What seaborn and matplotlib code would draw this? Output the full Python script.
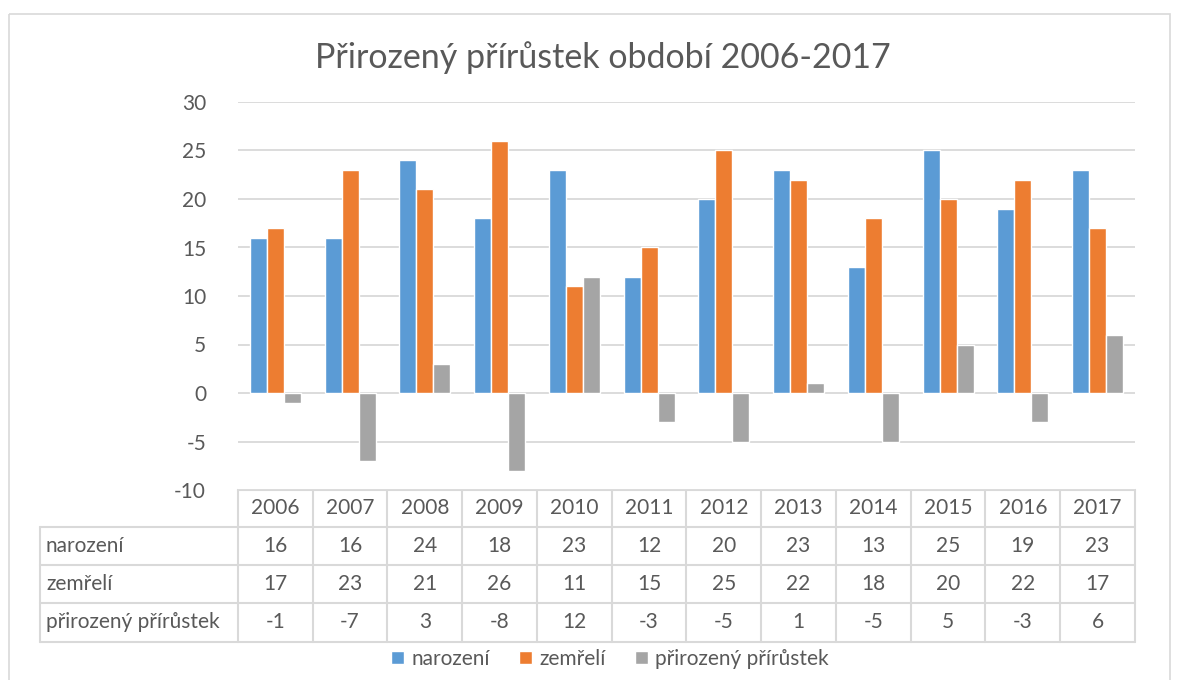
import numpy as np
import pandas as pd
import matplotlib
matplotlib.use("Agg")
import matplotlib.pyplot as plt
import seaborn as sns
from matplotlib.patches import Rectangle, Patch

# data
roky = ["2006", "2007", "2008", "2009", "2010", "2011", "2012", "2013", "2014", "2015", "2016", "2017"]
narozeni = [16, 16, 24, 18, 23, 12, 20, 23, 13, 25, 19, 23]
zemreli = [17, 23, 21, 26, 11, 15, 25, 22, 18, 20, 22, 17]
prirustek = [-1, -7, 3, -8, 12, -3, -5, 1, -5, 5, -3, 6]
rady = ["narození", "zemřelí", "přirozený přírůstek"]
barvy = ["#5B9BD5", "#ED7D31", "#A5A5A5"]

df = pd.DataFrame({
    "rok": roky * 3,
    "hodnota": narozeni + zemreli + prirustek,
    "rada": np.repeat(rady, len(roky)),
})

sns.set_theme(style="white")
plt.rcParams["font.family"] = ["Lato", "DejaVu Sans"]
plt.rcParams["axes.unicode_minus"] = False
seda = "#595959"
mrizka = "#D9D9D9"
fs = 15

W, H = 1183, 680
fig = plt.figure(figsize=(W / 100, H / 100), dpi=100)

# pixel overlay for border and table
pax = fig.add_axes([0, 0, 1, 1])
pax.set_xlim(0, W)
pax.set_ylim(H, 0)
pax.axis("off")
pax.add_patch(Rectangle((9, 14), 1161, 700, fill=False, edgecolor=mrizka, lw=1.2))

x0, x1 = 238, 1135
ax = fig.add_axes([x0 / W, 1 - 490 / H, (x1 - x0) / W, 388 / H])
sns.barplot(data=df, x="rok", y="hodnota", hue="rada", palette=barvy,
            width=0.68, saturation=1, legend=False, ax=ax, zorder=3)
ax.set_ylim(-10, 30)
ax.set_yticks(range(-10, 31, 5))
ax.yaxis.grid(True, color=mrizka, lw=1.3)
ax.set_axisbelow(True)
for s in ax.spines.values():
    s.set_visible(False)
ax.set_xlabel("")
ax.set_ylabel("")
ax.tick_params(axis="x", bottom=False, labelbottom=False)
ax.tick_params(axis="y", left=False, pad=17, labelsize=fs, labelcolor=seda)
ax.set_xlim(-0.5, len(roky) - 0.5)

# data table
tl = 40
colw = (x1 - x0) / len(roky)
radky = [490, 527, 565, 603, 642]
lc = dict(color=mrizka, lw=1.5)
pax.plot([x0, x1], [radky[0], radky[0]], **lc)
for r in radky[1:]:
    pax.plot([tl, x1], [r, r], **lc)
pax.plot([tl, tl], [radky[1], radky[-1]], **lc)
for i in range(len(roky) + 1):
    xx = x0 + i * colw
    pax.plot([xx, xx], [radky[0], radky[-1]], **lc)
for i, rok in enumerate(roky):
    pax.text(x0 + (i + 0.5) * colw, (radky[0] + radky[1]) / 2, rok,
             ha="center", va="center", fontsize=fs, color=seda)
for j, (nazev, hodnoty) in enumerate(zip(rady, [narozeni, zemreli, prirustek])):
    yc = (radky[j + 1] + radky[j + 2]) / 2
    pax.text(tl + 6, yc, nazev, ha="left", va="center", fontsize=fs, color=seda)
    for i, v in enumerate(hodnoty):
        pax.text(x0 + (i + 0.5) * colw, yc, str(v), ha="center", va="center",
                 fontsize=fs, color=seda)

fig.text(603 / W, 1 - 58 / H, "Přirozený přírůstek období 2006-2017",
         ha="center", va="center", fontsize=24.5, color=seda)

handles = [Patch(facecolor=c, label=l) for c, l in zip(barvy, rady)]
fig.legend(handles=handles, loc="center", bbox_to_anchor=(610 / W, 1 - 659 / H),
           ncol=3, frameon=False, fontsize=fs, handlelength=0.63, handleheight=0.63,
           handletextpad=0.35, columnspacing=1.4, labelcolor=seda)

fig.savefig("out.png", dpi=100)
